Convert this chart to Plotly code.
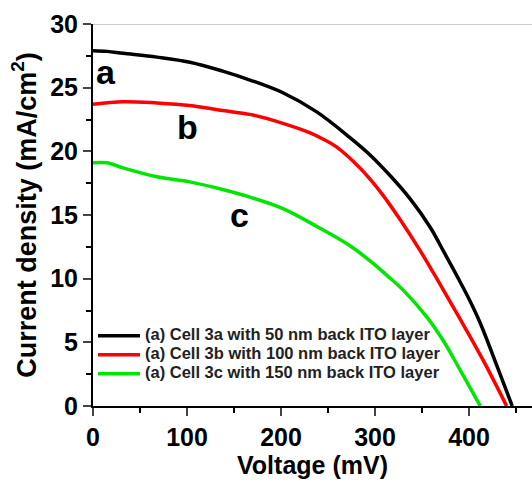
import plotly.graph_objects as go

# Series data (Voltage in mV, current density in mA/cm^2)
black_v = [0, 15, 32, 68, 103, 138, 167, 202, 238, 273, 295, 316, 337, 359, 374, 388, 400, 412, 430, 446]
black_j = [27.9, 27.85, 27.7, 27.4, 27.0, 26.3, 25.6, 24.6, 23.1, 21.1, 19.7, 18.1, 16.3, 14.0, 12.0, 10.1, 8.4, 6.5, 3.1, 0]

red_v = [0, 32, 68, 103, 138, 167, 202, 231, 245, 259, 284, 295, 309, 327, 348, 361, 372, 390, 415, 440]
red_j = [23.7, 23.9, 23.8, 23.6, 23.2, 22.9, 22.2, 21.45, 20.95, 20.35, 18.7, 17.8, 16.5, 14.6, 12.2, 10.6, 9.2, 6.9, 3.6, 0]

green_v = [0, 15, 32, 68, 103, 138, 167, 202, 238, 273, 298, 312, 330, 355, 372, 390, 412]
green_j = [19.1, 19.1, 18.7, 18.0, 17.6, 17.0, 16.4, 15.5, 14.1, 12.6, 11.2, 10.3, 9.1, 7.0, 5.2, 2.9, 0]

series_names = [
    "(a) Cell 3a with 50 nm back ITO layer",
    "(a) Cell 3b with 100 nm back ITO layer",
    "(a) Cell 3c with 150 nm back ITO layer",
]
series_colors = ["#000000", "#ff0000", "#00e600"]

curve_labels = ["a", "b", "c"]
label_v = [14, 100, 156]
label_j = [26.2, 21.9, 15.0]

x_ticks = [0, 100, 200, 300, 400]
y_ticks = [0, 5, 10, 15, 20, 25, 30]

FONT = "Liberation Sans, Arial, sans-serif"

fig = go.Figure()
for v, j, name, col in zip([black_v, red_v, green_v], [black_j, red_j, green_j], series_names, series_colors):
    fig.add_trace(go.Scatter(x=v, y=j, mode="lines",
                             name='<span style="font-size:16.5px">' + name + '</span>',
                             line=dict(color=col, width=3.5, shape="spline", smoothing=1.0)))

for t, v, j in zip(curve_labels, label_v, label_j):
    fig.add_annotation(x=v, y=j, text=t, showarrow=False,
                       font=dict(family=FONT, size=34, color="black", weight="bold"))

fig.add_shape(type="line", xref="paper", yref="y", x0=0, x1=1, y0=30, y1=30,
              line=dict(color="#bbbbbb", width=1.5))

fig.update_layout(
    width=532, height=487,
    margin=dict(l=93, r=0, t=24, b=81),
    paper_bgcolor="white", plot_bgcolor="white",
    font=dict(family=FONT, color="black"),
    showlegend=True,
    legend=dict(x=0.0, y=0.222, xanchor="left", yanchor="top",
                bgcolor="rgba(0,0,0,0)", tracegroupgap=0, itemwidth=42,
                font=dict(family=FONT, size=12, color="#222222", weight="bold")),
    xaxis=dict(range=[0, 467], tickvals=x_ticks, ticks="outside", ticklen=8, tickwidth=1.5,
               showline=True, linecolor="black", linewidth=2, showgrid=False, zeroline=False,
               automargin=False,
               tickfont=dict(family=FONT, size=25, weight="bold"),
               minor=dict(ticks="outside", dtick=50, ticklen=5, tickwidth=1.5, tickcolor="black"),
               title=dict(text="Voltage (mV)", font=dict(family=FONT, size=25, weight="bold"), standoff=6)),
    yaxis=dict(range=[0, 30], tickvals=y_ticks, ticks="outside", ticklen=8, tickwidth=1.5,
               showline=True, linecolor="black", linewidth=2, showgrid=False, zeroline=False,
               automargin=False,
               tickfont=dict(family=FONT, size=25, weight="bold"),
               minor=dict(ticks="outside", dtick=2.5, ticklen=5, tickwidth=1.5, tickcolor="black"),
               title=dict(text="Current density (mA/cm<sup>2</sup>)",
                          font=dict(family=FONT, size=27, weight="bold"), standoff=6)),
)

fig.write_html("out.html", config={"displayModeBar": False},
               post_script="document.body.style.margin='0';document.body.style.overflow='hidden';")
